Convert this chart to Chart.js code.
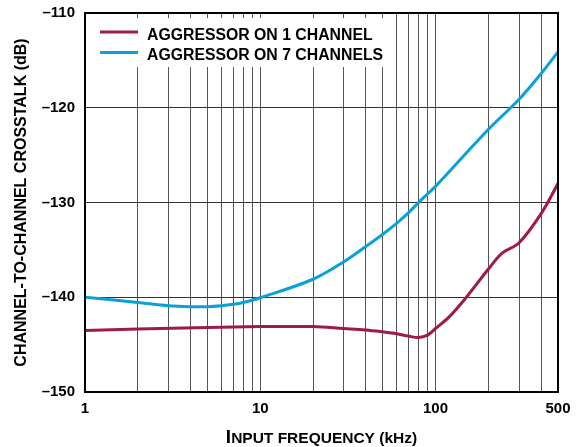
<!DOCTYPE html>
<html>
<head>
<meta charset="utf-8">
<script src="https://cdn.jsdelivr.net/npm/chart.js@4.4.0/dist/chart.umd.min.js"></script>
<style>
  html, body { margin: 0; padding: 0; background: #fff; }
</style>
</head>
<body>
<canvas id="crosstalkChart" width="582" height="447"></canvas>
<script>
// ==================== 데이터 ====================
// Aggressor on 1 channel
const freq1Ch = [1, 2, 5, 10, 20, 30, 40, 50, 60, 70, 80, 90, 100, 120, 150, 200, 240, 300, 400, 500];
const crosstalk1Ch = [-143.5, -143.35, -143.2, -143.1, -143.1, -143.3, -143.45, -143.65, -143.85, -144.1, -144.25, -144.0, -143.3, -142.05, -140.0, -137.05, -135.35, -134.25, -131.2, -128.0];

// Aggressor on 7 channels
const freq7Ch = [1, 2, 3, 4, 5, 6, 7, 8, 10, 20, 30, 40, 50, 60, 70, 80, 90, 100, 200, 300, 400, 500];
const crosstalk7Ch = [-140.0, -140.55, -140.9, -141.0, -141.0, -140.9, -140.75, -140.55, -140.05, -138.1, -136.25, -134.65, -133.35, -132.2, -131.1, -130.0, -129.1, -128.3, -122.3, -119.1, -116.4, -114.1];

const seriesLabels = ["AGGRESSOR ON 1 CHANNEL", "AGGRESSOR ON 7 CHANNELS"];
const seriesColors = ["#9e1b47", "#0aa2d6"];

// 눈금
const xGridValues = [1, 2, 3, 4, 5, 6, 7, 8, 9, 10, 20, 30, 40, 50, 60, 70, 80, 90, 100, 200, 300, 400, 500];
const xLabelValues = [1, 10, 100, 500];
const yTickValues = [-150, -140, -130, -120, -110];

const FONT = "'Liberation Sans', Arial, Helvetica, sans-serif";

function toPoints(xs, ys) {
  return xs.map((x, i) => ({ x, y: ys[i] }));
}

// ===== 범례 (차트 영역 안쪽, 흰 배경) =====
const legendPlugin = {
  id: "insideLegend",
  beforeDatasetsDraw(chart) {
    const ctx = chart.ctx;
    ctx.save();
    ctx.fillStyle = "#fff";
    ctx.fillRect(chart.chartArea.left + 2, 18, 305, 49);
    ctx.font = `bold 15.8px ${FONT}`;
    ctx.textBaseline = "alphabetic";
    chart.data.datasets.forEach((ds, i) => {
      const y = 32 + i * 20.5;
      ctx.strokeStyle = ds.borderColor;
      ctx.lineWidth = 3;
      ctx.beginPath();
      ctx.moveTo(100, y);
      ctx.lineTo(138, y);
      ctx.stroke();
      ctx.fillStyle = "#000";
      ctx.fillText(ds.label, 147, y + 7.5);
    });
    ctx.restore();
  }
};

// ===== 외곽 박스 + X축 제목 (small caps 흉내) =====
const framePlugin = {
  id: "frame",
  afterDraw(chart) {
    const { ctx, chartArea: a } = chart;
    ctx.save();
    ctx.strokeStyle = "#000";
    ctx.lineWidth = 2;
    ctx.strokeRect(a.left, a.top, a.right - a.left, a.bottom - a.top);

    const big = "I";
    const rest = "NPUT FREQUENCY (kHz)";
    ctx.fillStyle = "#000";
    ctx.textBaseline = "alphabetic";
    ctx.font = `bold 19px ${FONT}`;
    const wBig = ctx.measureText(big).width;
    ctx.font = `bold 15.5px ${FONT}`;
    const wRest = ctx.measureText(rest).width;
    const x0 = (a.left + a.right) / 2 - (wBig + wRest) / 2;
    const base = 443;
    ctx.font = `bold 19px ${FONT}`;
    ctx.fillText(big, x0, base);
    ctx.font = `bold 15.5px ${FONT}`;
    ctx.fillText(rest, x0 + wBig, base);
    ctx.restore();
  }
};

const ctx = document.getElementById("crosstalkChart").getContext("2d");

const crosstalkChart = new Chart(ctx, {
  type: "line",
  data: {
    datasets: [
      {
        label: seriesLabels[0],
        data: toPoints(freq1Ch, crosstalk1Ch),
        borderColor: seriesColors[0],
        backgroundColor: seriesColors[0],
        borderWidth: 3,
        pointRadius: 0,
        tension: 0.35,
        fill: false
      },
      {
        label: seriesLabels[1],
        data: toPoints(freq7Ch, crosstalk7Ch),
        borderColor: seriesColors[1],
        backgroundColor: seriesColors[1],
        borderWidth: 3,
        pointRadius: 0,
        tension: 0.35,
        fill: false
      }
    ]
  },
  options: {
    responsive: false,
    animation: false,
    devicePixelRatio: 1,
    layout: { padding: { left: 0, right: 24, top: 13, bottom: 0 } },
    plugins: {
      legend: { display: false },
      tooltip: { enabled: false }
    },
    scales: {
      x: {
        type: "logarithmic",
        min: 1,
        max: 500,
        afterBuildTicks: (scale) => {
          scale.ticks = xGridValues.map(v => ({ value: v }));
        },
        afterFit: (scale) => {
          scale.height = 55;
          scale.paddingLeft = 0;
          scale.paddingRight = 0;
        },
        ticks: {
          autoSkip: false,
          maxRotation: 0,
          padding: 8,
          color: "#000",
          font: { family: FONT, size: 15, weight: "bold" },
          callback: (v) => (xLabelValues.includes(v) ? String(v) : "")
        },
        grid: { color: "#555", lineWidth: 1, drawTicks: false },
        border: { display: false },
        title: { display: false }
      },
      y: {
        min: -150,
        max: -110,
        afterBuildTicks: (scale) => {
          scale.ticks = yTickValues.map(v => ({ value: v }));
        },
        afterFit: (scale) => {
          scale.width = 85;
          scale.paddingTop = 0;
          scale.paddingBottom = 0;
        },
        ticks: {
          padding: 10,
          color: "#000",
          font: { family: FONT, size: 15, weight: "bold" },
          callback: (v) => (v < 0 ? "\u2013" + Math.abs(v) : String(v))
        },
        grid: { color: "#333", lineWidth: 1, drawTicks: false },
        border: { display: false },
        title: {
          display: true,
          text: "CHANNEL-TO-CHANNEL CROSSTALK (dB)",
          color: "#000",
          font: { family: FONT, size: 16, weight: "bold" },
          padding: { top: 12, bottom: 0 }
        }
      }
    }
  },
  plugins: [legendPlugin, framePlugin]
});
</script>
</body>
</html>
